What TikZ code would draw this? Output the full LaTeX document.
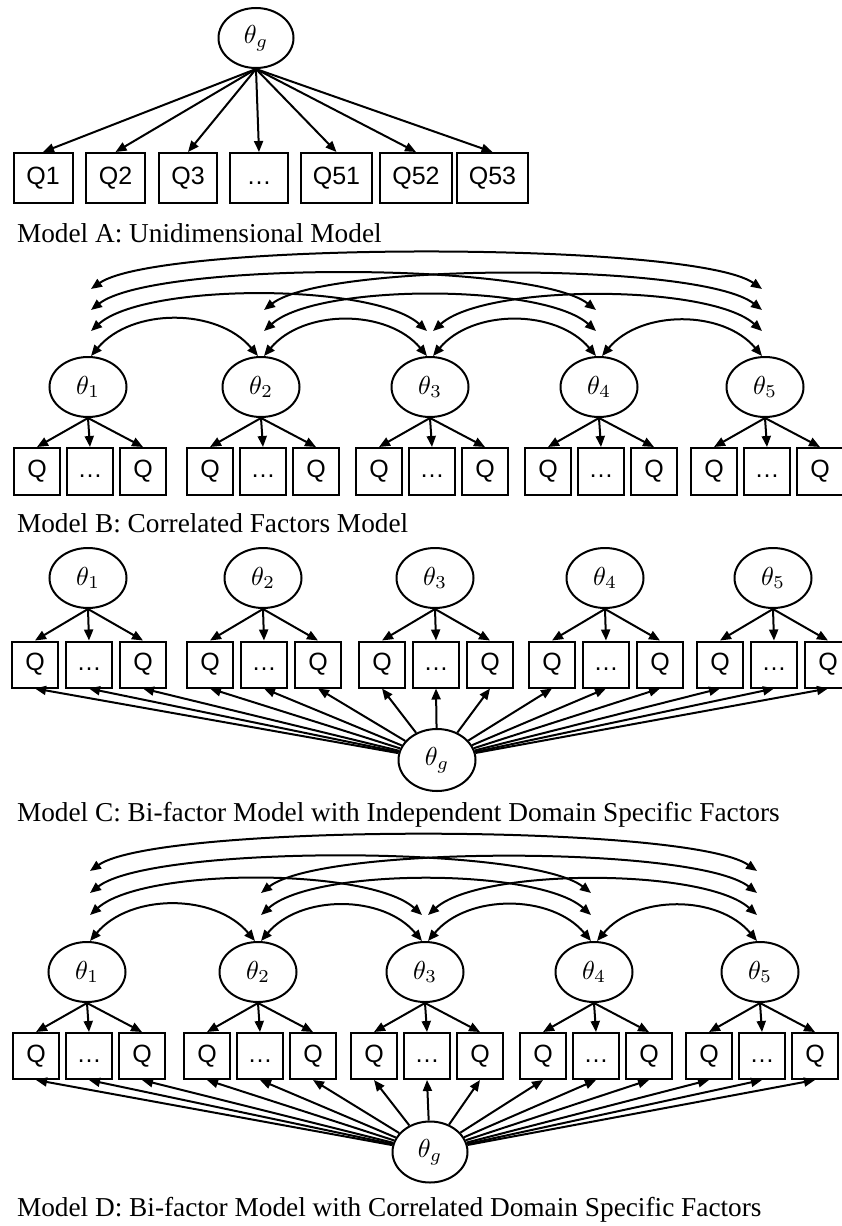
\documentclass[tikz,border=0pt]{standalone}
\usepackage{graphicx}
\usepackage{fontspec}
\setmainfont{Liberation Serif}
\newfontfamily\itemfont{Liberation Sans}
\usetikzlibrary{arrows.meta, shapes.geometric, calc}
\tikzset{>={Triangle[length=11pt,width=9pt]}}
\newcommand{\fac}[1]{\scalebox{2.6}{$\theta_{#1}$}}
\newcommand{\dotsitem}{\vphantom{Q}…}

\begin{document}
\begin{tikzpicture}[x=1pt, y=1pt, line width=2pt,
    latent/.style = {draw, ellipse, minimum width=77pt, minimum height=60pt, inner sep=0pt},
    item/.style = {draw, rectangle, minimum width=46pt, minimum height=47pt, inner sep=0pt,
      font=\itemfont\fontsize{25}{28}\selectfont},
    caption/.style = {anchor=base west, inner sep=0pt, font=\fontsize{27.3}{32}\selectfont}]
  \useasboundingbox (0,0) rectangle (842,-1226);

  % Model A
  \node[latent, minimum width=75pt] (thA) at (256,-38) {\fac{g}};
  \foreach \n/\x/\w/\t in {1/43/59/Q1, 2/115.5/59/Q2, 3/188/58/Q3, 4/259/58/\dotsitem,
      5/336.5/71/Q51, 6/416/72/Q52, 7/492.5/71/Q53} {
    \node[item, minimum width=\w pt, minimum height=50pt] (qA\n) at (\x,-178) {\t};
    \draw[->] (thA.south) -- (qA\n.north);
  }
  \node[caption] (capA) at (16,-242) {Model A: Unidimensional Model};

  % Model B
  \foreach \i/\x in {1/88, 2/261, 3/430, 4/599, 5/765} {
    \node[latent] (thB\i) at (\x,-387) {\fac{\i}};
    \node[item] (qB\i-1) at (\x-51,-471.5) {Q};
    \node[item] (qB\i-2) at (\x+2,-471.5) {\dotsitem};
    \node[item] (qB\i-3) at (\x+55,-471.5) {Q};
    \foreach \s in {1,2,3} \draw[->] (thB\i.south) -- (qB\i-\s.north);
  }
  \foreach \i in {1,...,4} {
    \pgfmathtruncatemacro\nxt{\i+1}
    \foreach \j in {\nxt,...,5} {
      \pgfmathtruncatemacro\lvl{\j-\i}
      \pgfmathsetmacro\off{{0,25,46,67}[\lvl-1]}
      \pgfmathsetmacro\ang{{50,42,38,35}[\lvl-1]}
      \pgfmathsetmacro\angin{180-\ang}
      \pgfmathsetmacro\loose{{0.97,0.55,0.40,0.32}[\lvl-1]}
      \coordinate (cB\i\j s) at ($(thB\i.north)+(3,\off)$);
      \coordinate (cB\i\j e) at ($(thB\j.north)+(-3,\off)$);
      \draw[<->] (cB\i\j s) to[out=\ang, in=\angin, looseness=\loose] (cB\i\j e);
    }
  }
  \node[caption] (capB) at (16,-532) {Model B: Correlated Factors Model};

  % Model C
  \node[latent, minimum height=62pt] (thgC) at (437,-760) {\fac{g}};
  \foreach \i/\x in {1/88, 2/263, 3/435, 4/605, 5/773} {
    \node[latent] (thC\i) at (\x,-578) {\fac{\i}};
    \node[item, minimum height=46pt] (qC\i-1) at (\x-53,-664.5) {Q};
    \node[item, minimum height=46pt] (qC\i-2) at (\x+1,-664.5) {\dotsitem};
    \node[item, minimum height=46pt] (qC\i-3) at (\x+55,-664.5) {Q};
    \foreach \s in {1,2,3} {
      \draw[->] (thC\i.south) -- (qC\i-\s.north);
      \draw[->] (thgC) -- (qC\i-\s.south);
    }
  }
  \node[caption] (capC) at (16,-821) {Model C: Bi-factor Model with Independent Domain Specific Factors};

  % Model D
  \node[latent, minimum width=75pt, minimum height=61pt] (thgD) at (430,-1152) {\fac{g}};
  \foreach \i/\x in {1/87, 2/258, 3/425, 4/594, 5/760} {
    \node[latent] (thD\i) at (\x,-972) {\fac{\i}};
    \node[item, minimum height=46pt] (qD\i-1) at (\x-51,-1056) {Q};
    \node[item, minimum height=46pt] (qD\i-2) at (\x+2,-1056) {\dotsitem};
    \node[item, minimum height=46pt] (qD\i-3) at (\x+55,-1056) {Q};
    \foreach \s in {1,2,3} {
      \draw[->] (thD\i.south) -- (qD\i-\s.north);
      \draw[->] (thgD) -- (qD\i-\s.south);
    }
  }
  \foreach \i in {1,...,4} {
    \pgfmathtruncatemacro\nxt{\i+1}
    \foreach \j in {\nxt,...,5} {
      \pgfmathtruncatemacro\lvl{\j-\i}
      \pgfmathsetmacro\off{{0,26,48,70}[\lvl-1]}
      \pgfmathsetmacro\ang{{50,42,38,35}[\lvl-1]}
      \pgfmathsetmacro\angin{180-\ang}
      \pgfmathsetmacro\loose{{0.97,0.55,0.40,0.32}[\lvl-1]}
      \coordinate (cD\i\j s) at ($(thD\i.north)+(3,\off)$);
      \coordinate (cD\i\j e) at ($(thD\j.north)+(-3,\off)$);
      \draw[<->] (cD\i\j s) to[out=\ang, in=\angin, looseness=\loose] (cD\i\j e);
    }
  }
  \node[caption] (capD) at (16,-1216) {Model D: Bi-factor Model with Correlated Domain Specific Factors};
\end{tikzpicture}
\end{document}
